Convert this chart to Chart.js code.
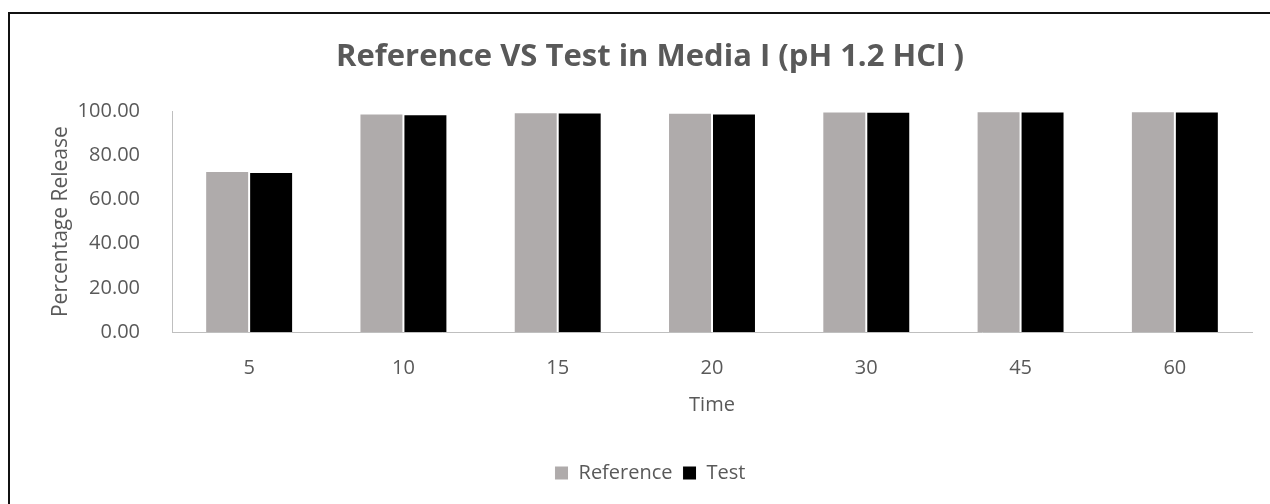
<!DOCTYPE html>
<html>
<head>
<meta charset="utf-8">
<script src="https://cdn.jsdelivr.net/npm/chart.js@4.4.1/dist/chart.umd.min.js"></script>
<style>
  html, body { margin: 0; padding: 0; background: #fff; overflow: hidden; }
  #frame { position: absolute; left: 8px; top: 12px; width: 1400px; height: 700px; border: 2px solid #111; box-sizing: border-box; }
  #wrap { position: absolute; left: 0; top: 0; width: 1270px; height: 504px; }
</style>
</head>
<body>
<div id="frame"></div>
<div id="wrap"><canvas id="chart" width="1270" height="504"></canvas></div>
<script>
// Dissolution data
const timePoints = ["5", "10", "15", "20", "30", "45", "60"]
const referenceValues = [72.9, 99.0, 99.5, 99.3, 99.9, 100.0, 100.0]
const testValues = [72.5, 98.6, 99.4, 99.0, 99.7, 99.9, 99.9]
const yTicks = [0, 20, 40, 60, 80, 100]

const textColor = "#595959"
const fontFamily = "'Open Sans', sans-serif"

const ctx = document.getElementById("chart").getContext("2d")
new Chart(ctx, {
  type: "bar",
  data: {
    labels: timePoints,
    datasets: [
      {
        label: "Reference",
        data: referenceValues,
        backgroundColor: "#AFABAB",
        borderColor: "#ffffff",
        borderWidth: 1,
      },
      {
        label: "Test",
        data: testValues,
        backgroundColor: "#000000",
        borderColor: "#ffffff",
        borderWidth: 1,
      },
    ],
  },
  options: {
    responsive: false,
    animation: false,
    layout: { padding: { left: 48, right: 18, top: 0, bottom: 11 } },
    datasets: {
      bar: { categoryPercentage: 0.57, barPercentage: 1 },
    },
    plugins: {
      title: {
        display: true,
        text: "Reference VS Test in Media I (pH 1.2 HCl )",
        color: textColor,
        font: { family: fontFamily, size: 31, weight: "bold" },
        padding: { top: 39, bottom: 35 },
      },
      legend: {
        position: "bottom",
        labels: {
          color: textColor,
          font: { family: fontFamily, size: 20 },
          boxWidth: 14,
          boxHeight: 14,
          padding: 10,
        },
      },
      tooltip: { enabled: false },
    },
    scales: {
      x: {
        grid: { display: false },
        border: { display: true, color: "#BFBFBF", width: 1 },
        ticks: { color: textColor, font: { family: fontFamily, size: 20 }, padding: 16 },
        title: {
          display: true,
          text: "Time",
          color: textColor,
          font: { family: fontFamily, size: 20 },
          padding: { top: 4, bottom: 36 },
        },
        afterFit: (scale) => { scale.height = 121 },
      },
      y: {
        min: 0,
        max: 100,
        afterBuildTicks: (scale) => { scale.ticks = yTicks.map((v) => ({ value: v })) },
        grid: { display: false },
        border: { display: true, color: "#BFBFBF", width: 1 },
        ticks: {
          color: textColor,
          font: { family: fontFamily, size: 20 },
          padding: 24,
          callback: (v) => Number(v).toFixed(2),
        },
        title: {
          display: true,
          text: "Percentage Release",
          color: textColor,
          font: { family: fontFamily, size: 21 },
          padding: { top: 0, bottom: 0 },
        },
        afterFit: (scale) => { scale.width = 124 },
      },
    },
  },
})
</script>
</body>
</html>
